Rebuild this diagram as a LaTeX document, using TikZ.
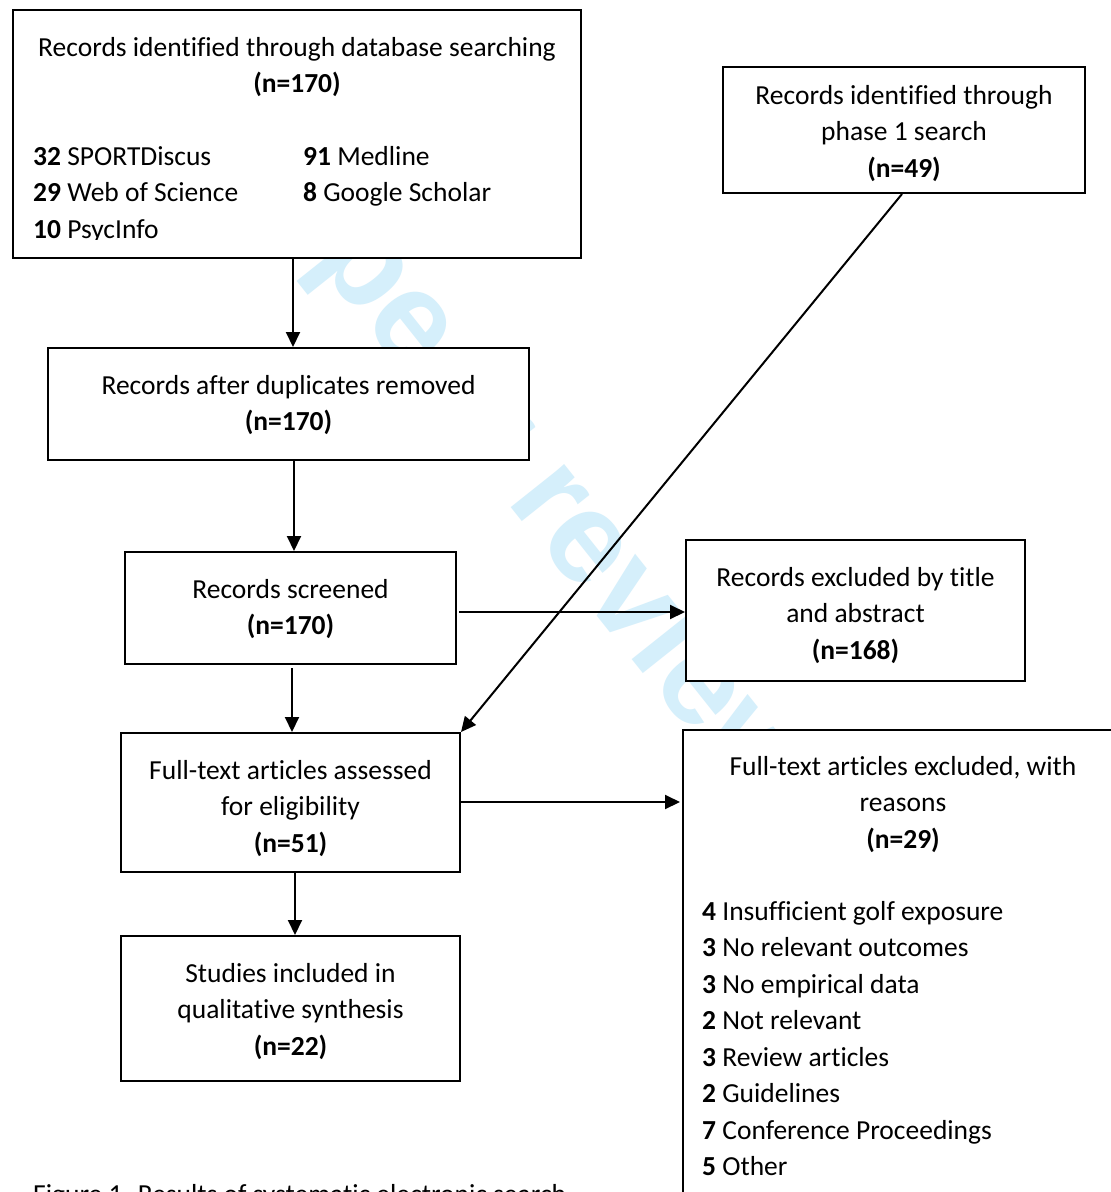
\documentclass[tikz,border=0pt]{standalone}
\usepackage{fontspec}
\setmainfont{Carlito}[Ligatures=NoCommon]
\newfontfamily\wmfont{Liberation Sans}
\usetikzlibrary{arrows.meta,calc}
\definecolor{wmcol}{RGB}{213,239,251}
\newcommand\dgfont{\fontsize{27.5}{36.5}\selectfont}
\begin{document}
\begin{tikzpicture}[x=1pt,y=-1pt,
  box/.style={draw, line width=2pt, fill=white, inner sep=0pt},
  txt/.style={inner sep=0pt, font=\dgfont, align=center},
  arr/.style={line width=2pt, -{Triangle[length=15pt,width=14pt]}},
  wmark/.style={inner sep=0pt, text=wmcol, font=\wmfont\bfseries\fontsize{130}{130}\selectfont}]
\clip (0,0) rectangle (1111,1192);
\fill[white] (0,0) rectangle (1111,1192);
% watermark
\node[wmark, anchor=base west, rotate=-51.5] (wm) at (312,257) {peer review};
% boxes
\node[box, minimum width=568pt, minimum height=248pt] (db) at (297,134) {};
\begin{scope}
\clip (13,10) rectangle (581,239);
\node[txt, anchor=base] (dbhead) at (297,56) {\begin{tabular}[t]{@{}c@{}}Records identified through database searching\\\textbf{(n=170)}\end{tabular}};
\node[txt, anchor=base west] (dblist) at (33,165) {\begin{tabular}[t]{@{}p{270pt}@{}l@{}}\textbf{32} SPORTDiscus & \textbf{91} Medline\\\textbf{29} Web of Science & \textbf{8} Google Scholar\\\textbf{10} PsycInfo & \end{tabular}};
\end{scope}
\node[box, minimum width=362pt, minimum height=126pt] (ph1) at (904,130) {};
\node[txt] (ph1t) at ($(ph1)+(0,3.5)$) {Records identified through\\phase 1 search\\\textbf{(n=49)}};
\node[box, minimum width=481pt, minimum height=112pt] (dup) at (288.5,404) {};
\node[txt] (dupt) at ($(dup)+(0,1)$) {Records after duplicates removed\\\textbf{(n=170)}};
\node[box, minimum width=331pt, minimum height=112pt] (scr) at (290.5,608) {};
\node[txt] (scrt) at ($(scr)+(0,1)$) {Records screened\\\textbf{(n=170)}};
\node[box, minimum width=339pt, minimum height=141pt] (exc1) at (855.5,610.5) {};
\node[txt] (exc1t) at ($(exc1)+(0,5)$) {Records excluded by title\\and abstract\\\textbf{(n=168)}};
\node[box, minimum width=339pt, minimum height=139pt] (ft) at (290.5,802.5) {};
\node[txt] (ftt) at ($(ft)+(0,6)$) {Full-text articles assessed\\for eligibility\\\textbf{(n=51)}};
\node[box, minimum width=339pt, minimum height=145pt] (inc) at (290.5,1008.5) {};
\node[txt] (inct) at ($(inc)+(0,3)$) {Studies included in\\qualitative synthesis\\\textbf{(n=22)}};
\node[box, minimum width=440pt, minimum height=540pt] (exc2) at (903,1000) {};
\node[txt, anchor=base] (exc2head) at (903,775) {\begin{tabular}[t]{@{}c@{}}Full-text articles excluded, with\\reasons\\\textbf{(n=29)}\end{tabular}};
\node[txt, anchor=base west] (exc2list) at (702,920) {\begin{tabular}[t]{@{}l@{}}\textbf{4} Insufficient golf exposure\\\textbf{3} No relevant outcomes\\\textbf{3} No empirical data\\\textbf{2} Not relevant\\\textbf{3} Review articles\\\textbf{2} Guidelines\\\textbf{7} Conference Proceedings\\\textbf{5} Other\end{tabular}};
\node[txt, anchor=base west] (cap) at (33,1203) {Figure 1. Results of systematic electronic search};
% connectors
\draw[arr] (db.south -| 293,0) -- (dup.north -| 293,0);
\draw[arr] (dup.south -| 294,0) -- (scr.north -| 294,0);
\draw[arr] ($(scr.south -| 292,0)+(0,3)$) -- (ft.north -| 292,0);
\draw[arr] ($(scr.east |- 0,612)+(2,0)$) -- (exc1.west |- 0,612);
\draw[arr] (ft.east |- 0,802) -- ($(exc2.west |- 0,802)+(-2,0)$);
\draw[arr] (ft.south -| 295,0) -- (inc.north -| 295,0);
\draw[arr] (ph1.south -| 902,0) -- (ft.north east);
\end{tikzpicture}
\end{document}
